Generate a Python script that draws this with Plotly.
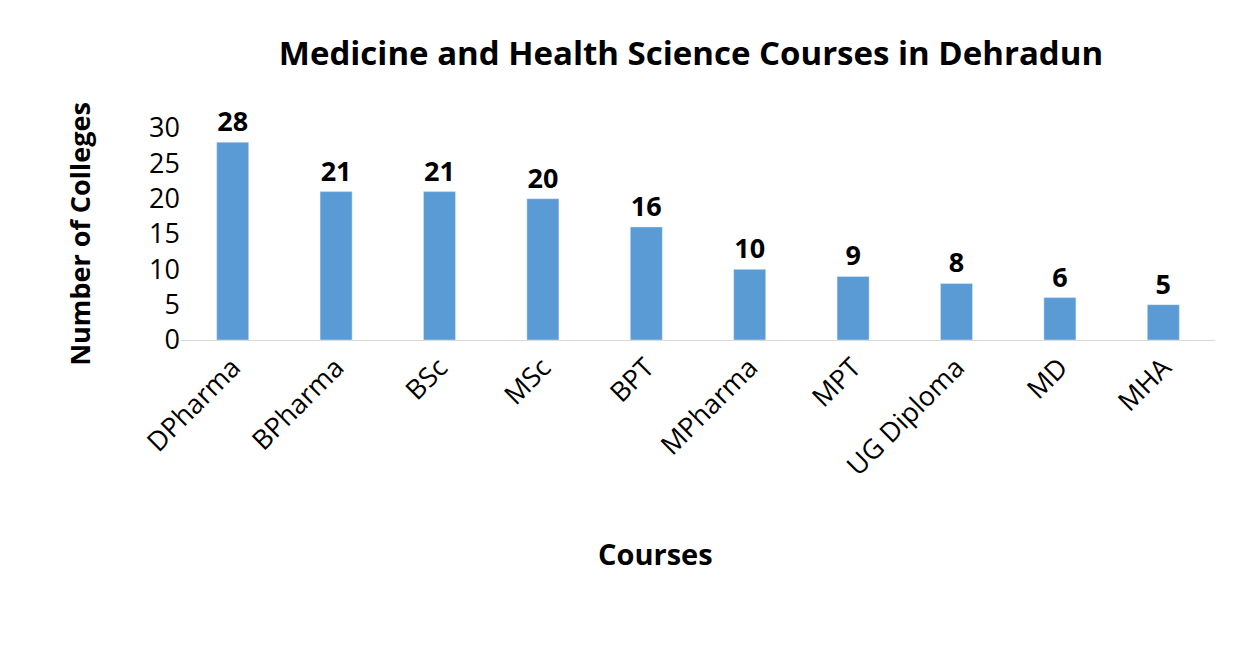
import plotly.graph_objects as go

courses = ["DPharma", "BPharma", "BSc", "MSc", "BPT", "MPharma", "MPT", "UG Diploma", "MD", "MHA"]
colleges = [28, 21, 21, 20, 16, 10, 9, 8, 6, 5]

fig = go.Figure(go.Bar(
    x=courses, y=colleges, marker_color="#5B9BD5",
    text=colleges, textposition="outside", cliponaxis=False,
    textfont=dict(size=27, color="black", family="Open Sans", weight="bold"),
))
fig.update_layout(
    width=1235, height=655, plot_bgcolor="white", paper_bgcolor="white",
    margin=dict(l=173, r=28, t=120, b=323),
    bargap=0.69, showlegend=False,
    font=dict(family="Open Sans", color="black"),
    title=dict(text="<b>Medicine and Health Science Courses in Dehradun</b>",
               x=0.553, xanchor="center", y=0.93, yanchor="middle",
               font=dict(size=33, color="black")),
    annotations=[dict(text="<b>Courses</b>", xref="paper", yref="paper", x=0.459, y=-1.009,
                      xanchor="center", yanchor="middle", showarrow=False,
                      font=dict(size=29, color="black"))],
)
fig.update_xaxes(tickangle=-45, tickfont=dict(size=27), showline=True, linecolor="#D9D9D9")
fig.update_yaxes(range=[0, 30], dtick=5, showgrid=False, zeroline=False, tickfont=dict(size=27),
                 title=dict(text="<b>Number of Colleges</b>", font=dict(size=27), standoff=50))
fig.write_html("out.html")
